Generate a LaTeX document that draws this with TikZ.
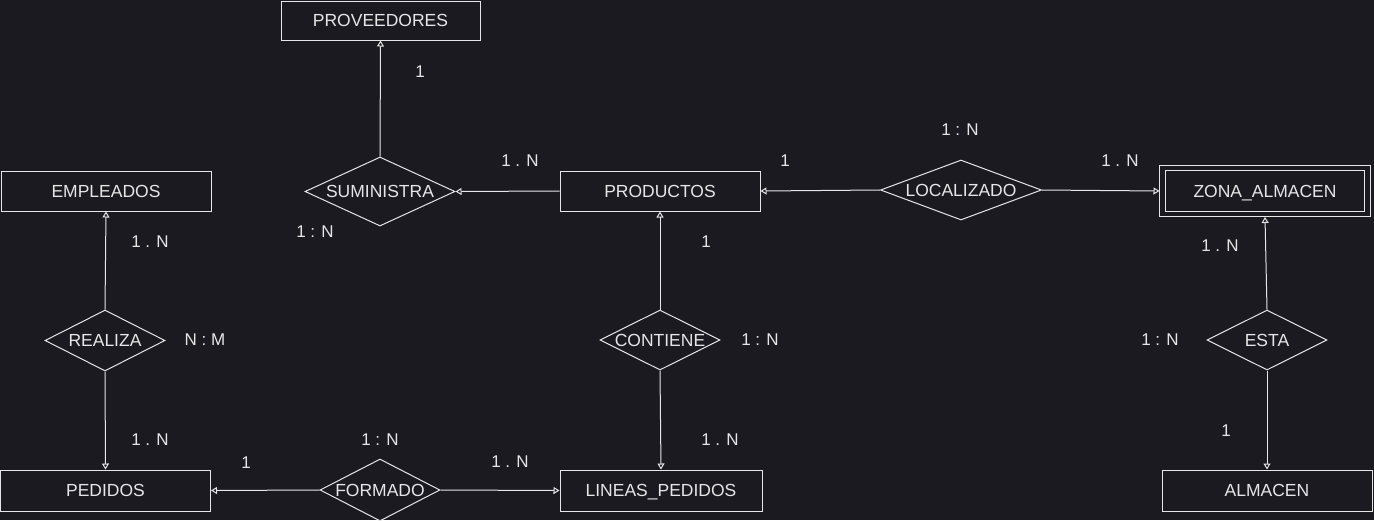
\documentclass[tikz,border=0pt]{standalone}
\usepackage{fontspec}
\setmainfont{Liberation Sans}
\usetikzlibrary{shapes.geometric,arrows.meta}
\definecolor{bg}{HTML}{1B1A21}
\definecolor{ink}{HTML}{E6E6E6}
\begin{document}
\begin{tikzpicture}[x=1pt,y=-1pt,
  ent/.style={draw=ink, line width=1pt, minimum width=200pt, minimum height=40pt, inner sep=0pt, text height=12.5pt, text depth=0pt, text=ink, font=\fontsize{17.5}{17.5}\selectfont},
  rel/.style={draw=ink, line width=1pt, diamond, inner sep=0pt, minimum width=120pt, minimum height=60pt, text=ink, font=\fontsize{17.5}{17.5}\selectfont},
  card/.style={text=ink, font=\fontsize{17}{17}\selectfont, inner sep=0pt},
  conn/.style={draw=ink, line width=1pt, -{Triangle[open,length=6pt,width=7pt]}},
]
\fill[bg] (0,0) rectangle (1374,520);
\useasboundingbox (0,0) rectangle (1374,520);

% entities
\node[ent, minimum width=199pt, minimum height=39pt] (prov) at (380.5,20.5) {PROVEEDORES};
\node[ent, minimum width=210pt] (emp) at (106,191) {EMPLEADOS};
\node[ent] (prod) at (660,191) {PRODUCTOS};
\node[ent, minimum width=205pt, minimum height=46pt, double=bg, double distance=4.5pt, line width=0.9pt, outer sep=3pt] (zona) at (1265,191) {ZONA\_ALMACEN};
\node[ent, minimum width=210pt, minimum height=41pt] (ped) at (105.5,490.5) {PEDIDOS};
\node[ent, minimum width=202pt, minimum height=41pt] (lin) at (661,490.5) {LINEAS\_PEDIDOS};
\node[ent, minimum width=210pt, minimum height=41pt] (alm) at (1267,490.5) {ALMACEN};

% relationships
\node[rel, minimum width=150pt, minimum height=69pt] (sum) at (380,191.5) {\makebox[0pt]{SUMINISTRA}};
\node[rel, minimum width=161pt] (loc) at (961,190) {\makebox[0pt]{LOCALIZADO}};
\node[rel, minimum height=61pt] (rea) at (105,340.5) {\makebox[0pt]{REALIZA}};
\node[rel] (cont) at (660,340) {\makebox[0pt]{CONTIENE}};
\node[rel] (esta) at (1267,340) {\makebox[0pt]{ESTA}};
\node[rel, minimum height=62pt] (form) at (380,490) {\makebox[0pt]{FORMADO}};

% connectors
\draw[conn] (sum.north) -- (prov.south);
\draw[conn] (prod.west) -- (sum.east);
\draw[conn] (loc.west) -- (prod.east);
\draw[conn] (loc.east) -- (zona.west);
\draw[conn] (rea.north) -- (emp.south);
\draw[conn] (rea.south) -- (ped.north);
\draw[conn] (cont.north) -- (prod.south);
\draw[conn] (cont.south) -- (lin.north);
\draw[conn] (form.west) -- (ped.east);
\draw[conn] (form.east) -- (lin.west);
\draw[conn] (esta.north) -- (zona.south);
\draw[conn] (esta.south) -- (alm.north);

% cardinalities
\node[card] (c1) at (420,72) {1};
\node[card] (c2) at (520,161) {1 . N};
\node[card] (c3) at (315,232) {1 : N};
\node[card] (c4) at (785,161) {1};
\node[card] (c5) at (960,130) {1 : N};
\node[card] (c6) at (1120,161) {1 . N};
\node[card] (c7) at (150,242) {1 . N};
\node[card] (c8) at (205,340) {N : M};
\node[card] (c9) at (150,440) {1 . N};
\node[card] (c10) at (706,242) {1};
\node[card] (c11) at (760,340) {1 : N};
\node[card] (c12) at (720,440) {1 . N};
\node[card] (c13) at (1160,340) {1 : N};
\node[card] (c14) at (1220,246) {1 . N};
\node[card] (c15) at (1226,431) {1};
\node[card] (c16) at (246,463) {1};
\node[card] (c17) at (380,440) {1 : N};
\node[card] (c18) at (510,462) {1 . N};
\end{tikzpicture}
\end{document}
